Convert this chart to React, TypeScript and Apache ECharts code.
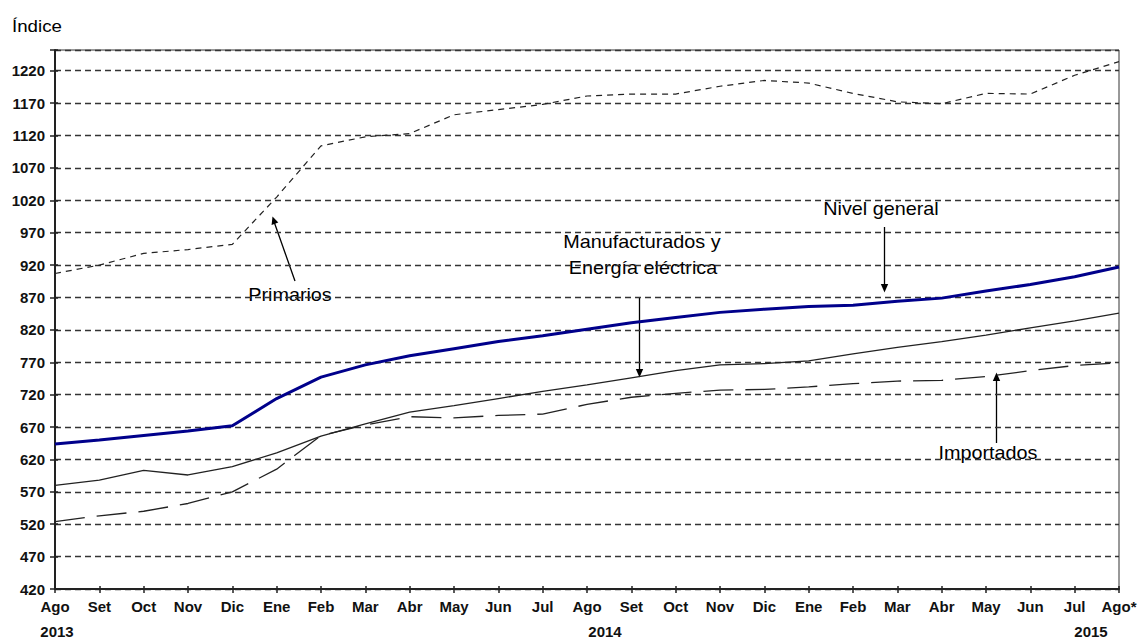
import React, { useEffect, useRef } from "react";
import * as echarts from "echarts";

const months = [
  "Ago", "Set", "Oct", "Nov", "Dic", "Ene", "Feb", "Mar", "Abr", "May", "Jun", "Jul",
  "Ago", "Set", "Oct", "Nov", "Dic", "Ene", "Feb", "Mar", "Abr", "May", "Jun", "Jul", "Ago*",
];
const years = ["2013", "2014", "2015"];

const nivelGeneral = [644, 650, 657, 664, 672, 714, 747, 766, 780, 791, 802, 811, 821, 831, 839, 847, 852, 856, 858, 864, 869, 880, 890, 902, 917];
const manufacturados = [580, 588, 603, 596, 609, 630, 656, 675, 693, 703, 714, 725, 735, 746, 757, 766, 768, 772, 783, 793, 802, 812, 823, 834, 846];
const importados = [524, 533, 540, 552, 570, 605, 657, 673, 686, 684, 688, 690, 705, 716, 722, 727, 728, 732, 737, 741, 742, 748, 757, 765, 769];
const primarios = [907, 920, 938, 944, 952, 1025, 1104, 1118, 1123, 1152, 1160, 1168, 1181, 1184, 1184, 1196, 1205, 1201, 1185, 1172, 1169, 1185, 1184, 1213, 1234];

const Y_MIN = 420;
const Y_MAX = 1252;
const Y_STEP = 50;

export default function App() {
  const ref = useRef<HTMLDivElement>(null);

  useEffect(() => {
    document.body.style.margin = "0";
    const chart = echarts.init(ref.current!, null, { renderer: "svg" });
    const font = "'Liberation Sans', Arial, sans-serif";
    const tickFont = { fontFamily: font, fontSize: 15, fontWeight: "bold" as const, color: "#111" };
    const lineCol = "#222";

    const annot = (text: string, x: number, y: number) => ({
      type: "text",
      x,
      y,
      scaleX: 1.1,
      silent: true,
      style: {
        text,
        fill: "#000",
        font: `18px ${font}`,
        textAlign: "center",
        textVerticalAlign: "middle",
        align: "center",
        verticalAlign: "middle",
      },
    });
    const yearText = (text: string, x: number) => ({
      type: "text",
      x,
      y: 631,
      silent: true,
      style: {
        text,
        fill: "#111",
        font: `bold 15px ${font}`,
        textAlign: "center",
        textVerticalAlign: "middle",
        align: "center",
        verticalAlign: "middle",
      },
    });
    const arrowLine = (x1: number, y1: number, x2: number, y2: number) => ({
      type: "line",
      silent: true,
      shape: { x1, y1, x2, y2 },
      style: { stroke: "#000", lineWidth: 1.3 },
    });
    const head = (points: number[][]) => ({
      type: "polygon",
      silent: true,
      shape: { points },
      style: { fill: "#000" },
    });

    chart.setOption({
      animation: false,
      backgroundColor: "#fff",
      grid: {
        left: 55,
        right: 21,
        top: 50,
        bottom: 50,
        show: true,
        borderColor: "#333",
        borderWidth: 1,
        backgroundColor: "transparent",
      },
      xAxis: [
        {
          type: "category",
          data: months,
          boundaryGap: false,
          position: "bottom",
          axisLine: { lineStyle: { color: lineCol, width: 2 } },
          axisTick: { show: true, interval: 0, length: 4, lineStyle: { color: lineCol, width: 1.5 } },
          axisLabel: { interval: 0, margin: 10, ...tickFont },
          splitLine: { show: false },
        },
        {
          type: "category",
          data: months,
          boundaryGap: false,
          position: "bottom",
          axisLine: { show: false },
          axisTick: { show: true, inside: true, interval: 0, length: 3, lineStyle: { color: lineCol, width: 1.5 } },
          axisLabel: { show: false },
          splitLine: { show: false },
        },
      ],
      yAxis: [
        {
          type: "value",
          min: Y_MIN,
          max: Y_MAX,
          interval: Y_STEP,
          position: "left",
          axisLine: { show: true, lineStyle: { color: lineCol, width: 2 } },
          axisTick: { show: true, length: 5, lineStyle: { color: lineCol, width: 1.5 } },
          axisLabel: {
            margin: 10,
            ...tickFont,
            formatter: (v: number) => (v > 1220 ? "" : String(v)),
          },
          splitLine: { show: true, lineStyle: { type: [6, 4], color: "#333", width: 1.3 } },
        },
        {
          type: "value",
          min: Y_MIN,
          max: Y_MAX,
          interval: Y_STEP,
          position: "left",
          axisLine: { show: false },
          axisTick: { show: true, inside: true, length: 3, lineStyle: { color: lineCol, width: 1.5 } },
          axisLabel: { show: false },
          splitLine: { show: false },
        },
      ],
      series: [
        {
          name: "Primarios",
          type: "line",
          data: primarios,
          symbol: "none",
          lineStyle: { color: lineCol, width: 1.2, type: [6, 5] },
          z: 3,
        },
        {
          name: "Importados",
          type: "line",
          data: importados,
          symbol: "none",
          lineStyle: { color: lineCol, width: 1.3, type: [30, 12] },
          z: 3,
        },
        {
          name: "Manufacturados y Energía eléctrica",
          type: "line",
          data: manufacturados,
          symbol: "none",
          lineStyle: { color: lineCol, width: 1.3 },
          z: 4,
        },
        {
          name: "Nivel general",
          type: "line",
          data: nivelGeneral,
          symbol: "none",
          lineStyle: { color: "#00008b", width: 3 },
          z: 5,
        },
      ],
      graphic: [
        {
          type: "text",
          x: 12,
          y: 26,
          scaleX: 1.1,
          silent: true,
          style: {
            text: "Índice",
            fill: "#000",
            font: `17px ${font}`,
            textVerticalAlign: "middle",
            verticalAlign: "middle",
          },
        },
        yearText(years[0], 57),
        yearText(years[1], 605),
        yearText(years[2], 1091),
        annot("Primarios", 290, 295),
        annot("Manufacturados y", 642, 242),
        annot("Energía eléctrica", 643, 268),
        annot("Nivel general", 881, 209),
        annot("Importados", 988, 453),
        arrowLine(295, 281, 274.5, 223),
        head([[272.5, 216.5], [278.3, 222.6], [271.6, 225]]),
        arrowLine(639.5, 297, 639.5, 370),
        head([[639.5, 377.5], [635.8, 369], [643.2, 369]]),
        arrowLine(884.5, 227, 884.5, 285),
        head([[884.5, 292.5], [880.8, 284], [888.2, 284]]),
        arrowLine(996.5, 443, 996.5, 380),
        head([[996.5, 372.5], [992.8, 381], [1000.2, 381]]),
      ],
    });

    return () => chart.dispose();
  }, []);

  return <div ref={ref} style={{ width: 1140, height: 639 }} />;
}
